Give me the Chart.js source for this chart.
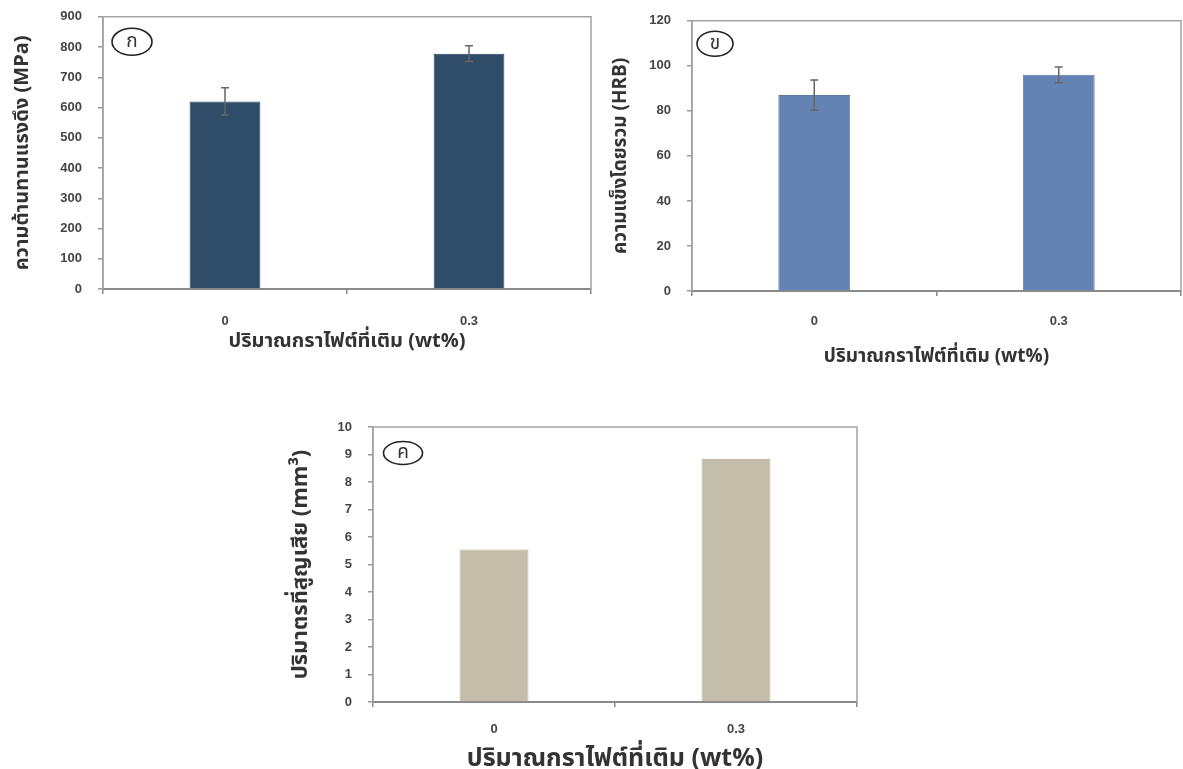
<!DOCTYPE html>
<html>
<head>
<meta charset="utf-8">
<script src="https://cdn.jsdelivr.net/npm/chart.js@4/dist/chart.umd.min.js"></script>
<style>
  html, body { margin: 0; padding: 0; background: #fff; }
  #page { position: relative; width: 1183px; height: 769px; overflow: hidden; }
  canvas { position: absolute; }
</style>
</head>
<body>
<div id="page">
  <canvas id="chart1" width="600" height="377" style="left:0;top:-7px"></canvas>
  <canvas id="chart2" width="593" height="378" style="left:590px;top:-3px"></canvas>
  <canvas id="chart3" width="600" height="369" style="left:270px;top:400px"></canvas>
</div>
<script>
// data
const categories = ['0', '0.3'];
const tensileValues = [620, 778];
const tensileErrors = [45, 26];
const hardnessValues = [87, 96];
const hardnessErrors = [6.7, 3.5];
const wearValues = [5.55, 8.84];

const xTitle = 'ปริมาณกราไฟต์ที่เติม (wt%)';
const thaiFont = "'Noto Sans Thai', 'Noto Sans', 'DejaVu Sans', sans-serif";
const tickFont = "'Liberation Sans', Arial, sans-serif";

// error bars + plot frame + circled panel letter
const extras = {
  id: 'extras',
  afterDatasetsDraw(chart, args, opts) {
    const ctx = chart.ctx;
    const area = chart.chartArea;
    const x = chart.scales.x, y = chart.scales.y;
    // frame (top, right, left)
    ctx.save();
    ctx.strokeStyle = '#a3a3a3';
    ctx.lineWidth = 1.5;
    ctx.beginPath();
    ctx.moveTo(area.left, area.bottom);
    ctx.lineTo(area.left, area.top);
    ctx.lineTo(area.right, area.top);
    ctx.lineTo(area.right, area.bottom);
    ctx.stroke();
    // error bars
    if (opts.errors) {
      const vals = chart.data.datasets[0].data;
      ctx.strokeStyle = '#666';
      ctx.lineWidth = 1.5;
      vals.forEach((v, i) => {
        const cx = x.getPixelForValue(i);
        const top = y.getPixelForValue(v + opts.errors[i]);
        const bot = y.getPixelForValue(v - opts.errors[i]);
        ctx.beginPath();
        ctx.moveTo(cx, top); ctx.lineTo(cx, bot);
        ctx.moveTo(cx - 4, top); ctx.lineTo(cx + 4, top);
        ctx.moveTo(cx - 4, bot); ctx.lineTo(cx + 4, bot);
        ctx.stroke();
      });
    }
    // circled letter
    const lx = area.left + opts.dx, ly = area.top + opts.dy;
    ctx.strokeStyle = '#222';
    ctx.lineWidth = 1.6;
    ctx.beginPath();
    ctx.ellipse(lx, ly, opts.rx, opts.ry, 0, 0, Math.PI * 2);
    ctx.stroke();
    ctx.fillStyle = '#333';
    ctx.font = '19px ' + thaiFont;
    ctx.textAlign = 'center';
    ctx.textBaseline = 'middle';
    ctx.fillText(opts.letter, lx, ly + 1);
    ctx.restore();
  }
};

function makeChart(id, cfg) {
  return new Chart(document.getElementById(id), {
    type: 'bar',
    data: {
      labels: categories,
      datasets: [{
        data: cfg.values,
        backgroundColor: cfg.color,
        borderColor: cfg.border,
        borderWidth: 1,
        barPercentage: cfg.barPct,
        categoryPercentage: 1
      }]
    },
    options: {
      responsive: false,
      animation: false,
      layout: { padding: cfg.padding },
      plugins: {
        legend: { display: false },
        tooltip: { enabled: false },
        extras: cfg.extras
      },
      scales: {
        x: {
          offset: true,
          afterFit: s => { s.height = cfg.xHeight; },
          grid: { display: true, offset: true, drawOnChartArea: false, drawTicks: true, tickLength: 5, color: '#888', lineWidth: 1.5 },
          border: { color: '#8a8a8a', width: 2 },
          ticks: { color: '#444', padding: cfg.xTickPad, font: { family: tickFont, size: cfg.tickSize, weight: 'bold' } },
          title: { display: true, text: xTitle, color: '#333', padding: { top: 0, bottom: cfg.xTitlePad },
                   font: { family: thaiFont, size: cfg.xTitleSize, weight: cfg.titleWeight } }
        },
        y: {
          min: 0, max: cfg.max,
          afterFit: s => { s.width = cfg.yWidth; },
          grid: { display: true, drawOnChartArea: false, drawTicks: true, tickLength: 5, color: '#999', lineWidth: 1.5 },
          border: { color: '#a3a3a3', width: 1.5 },
          ticks: { stepSize: cfg.step, color: '#444', padding: cfg.yTickPad, font: { family: tickFont, size: cfg.tickSize, weight: 'bold' } },
          title: { display: true, text: cfg.yTitle, color: '#333', padding: { top: cfg.yTitlePad, bottom: 0 },
                   font: { family: thaiFont, size: cfg.yTitleSize, weight: cfg.titleWeight } }
        }
      }
    },
    plugins: [extras]
  });
}

makeChart('chart1', {
  values: tensileValues, color: '#2f4c69', border: '#2a425c', barPct: 0.29, max: 900, step: 100,
  padding: { left: 4, top: 21, right: 9, bottom: 0 },
  yWidth: 99, xHeight: 81, tickSize: 13, xTickPad: 20, yTickPad: 16, xTitlePad: 15, yTitlePad: 8,
  xTitleSize: 20, yTitleSize: 20, titleWeight: 'bold',
  yTitle: 'ความต้านทานแรงดึง (MPa)',
  extras: { errors: tensileErrors, letter: 'ก', dx: 29, dy: 25, rx: 20, ry: 13.5 }
});

makeChart('chart2', {
  values: hardnessValues, color: '#6383b4', border: '#5a79a8', barPct: 0.294, max: 120, step: 20,
  padding: { left: 4, top: 21, right: 2, bottom: 0 },
  yWidth: 98, xHeight: 84, tickSize: 13, xTickPad: 18, yTickPad: 16, xTitlePad: 5, yTitlePad: 17,
  xTitleSize: 19, yTitleSize: 19, titleWeight: 'bold',
  yTitle: 'ความแข็งโดยรวม (HRB)',
  extras: { errors: hardnessErrors, letter: 'ข', dx: 23, dy: 23, rx: 18, ry: 12.5 }
});

makeChart('chart3', {
  values: wearValues, color: '#c3bdaa', border: '#bdb7a3', barPct: 0.285, max: 10, step: 1,
  padding: { left: 4, top: 27, right: 13, bottom: 0 },
  yWidth: 99, xHeight: 67, tickSize: 13, xTickPad: 15, yTickPad: 16, xTitlePad: -7, yTitlePad: 15,
  xTitleSize: 25, yTitleSize: 22, titleWeight: 'bold',
  yTitle: 'ปริมาตรที่สูญเสีย (mm³)',
  extras: { errors: null, letter: 'ค', dx: 30, dy: 26, rx: 19.5, ry: 11.5 }
});
</script>
</body>
</html>
